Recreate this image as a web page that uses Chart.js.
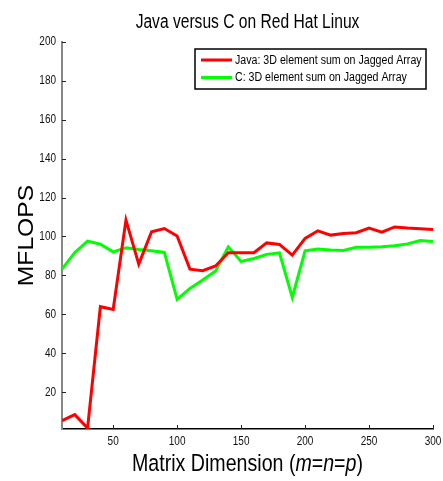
<!DOCTYPE html>
<html>
<head>
<meta charset="utf-8">
<script src="https://cdn.jsdelivr.net/npm/chart.js@4.4.0/dist/chart.umd.min.js"></script>
<style>
html,body{margin:0;padding:0;background:#fff;}
#wrap{width:443px;height:481px;position:relative;}
</style>
</head>
<body>
<div id="wrap"><canvas id="c" width="443" height="481"></canvas></div>
<script>
const sizes = [10,20,30,40,50,60,70,80,90,100,110,120,130,140,150,160,170,180,190,200,210,220,230,240,250,260,270,280,290,300];
const javaValues = [5.3,8.4,1.5,63.9,62.5,108.4,85.8,102.4,104.1,100.2,83.2,82.4,84.8,91.6,91.6,91.6,96.7,95.9,90.4,99,102.9,100.7,101.5,101.9,104.3,102.2,104.9,104.3,104,103.6];
const cValues = [83.2,91.8,97.6,96,92.1,94.2,93.3,92.6,91.8,67.7,73.3,77.6,82.2,94.7,87.2,88.7,90.8,91.6,68.7,92.6,93.6,93,92.8,94.4,94.5,94.7,95.2,96.2,97.9,97.4];
const xTicks = [50,100,150,200,250,300];
const yTicks = [20,40,60,80,100,120,140,160,180,200];
const seriesLabels = ['Java: 3D element sum on Jagged Array','C: 3D element sum on Jagged Array'];
const titleText = 'Java versus C on Red Hat Linux';
const yTitle = 'MFLOPS';
const xTitleParts = [['Matrix Dimension (',false],['m',true],['=',false],['n',true],['=',false],['p',true],[')',false]];

const FONT = '"Liberation Sans", Arial, sans-serif';
const SQ = 0.8; // horizontal condensing of the reference's lettering

const pts = (vals) => sizes.map((s,i)=>({x:s,y:vals[i]}));

function drawSqueezed(ctx, text, x, y, font, sx, align){
  ctx.save();
  ctx.font = font;
  const w = ctx.measureText(text).width*sx;
  let left = x;
  if(align==='center') left = x - w/2; else if(align==='right') left = x - w;
  ctx.translate(left, y);
  ctx.scale(sx,1);
  ctx.textAlign='left';
  ctx.fillText(text,0,0);
  ctx.restore();
  return w;
}

const decor = {
  id:'decor',
  afterDraw(chart){
    const ctx = chart.ctx, a = chart.chartArea;
    const xs = chart.scales.x, ys = chart.scales.y;
    ctx.save();
    // inward ticks
    ctx.strokeStyle = '#222'; ctx.lineWidth = 1;
    xTicks.forEach(t=>{const px=Math.round(xs.getPixelForValue(t))+0.5; ctx.beginPath(); ctx.moveTo(px,a.bottom); ctx.lineTo(px,a.bottom-4); ctx.stroke();});
    yTicks.forEach(t=>{const py=Math.round(ys.getPixelForValue(t))+0.5; ctx.beginPath(); ctx.moveTo(a.left,py); ctx.lineTo(a.left+4,py); ctx.stroke();});
    ctx.fillStyle = '#111';
    ctx.textBaseline='middle';
    // tick labels
    xTicks.forEach(t=>drawSqueezed(ctx,String(t),xs.getPixelForValue(t),442,'12.5px '+FONT,SQ,'center'));
    yTicks.forEach(t=>drawSqueezed(ctx,String(t),56,ys.getPixelForValue(t),'12.5px '+FONT,SQ,'right'));
    ctx.fillStyle = '#000';
    // title
    ctx.textBaseline='alphabetic';
    drawSqueezed(ctx,titleText,(a.left+a.right)/2,28,'19.5px '+FONT,SQ,'center');
    // y title (rotated, reading upward)
    ctx.save();
    ctx.translate(32.5,(a.top+a.bottom)/2);
    ctx.rotate(-Math.PI/2);
    drawSqueezed(ctx,yTitle,0,0,'22px '+FONT,1.12,'center');
    ctx.restore();
    // x title with italics
    const fN = '24.5px '+FONT, fI = 'italic 24.5px '+FONT;
    let total=0;
    xTitleParts.forEach(([t,it])=>{ctx.font=it?fI:fN; total+=ctx.measureText(t).width*SQ;});
    let x=(a.left+a.right)/2-total/2;
    xTitleParts.forEach(([t,it])=>{x+=drawSqueezed(ctx,t,x,471,it?fI:fN,SQ,'left');});
    // legend
    const bx=195, by=49, bw=231, bh=40;
    ctx.fillStyle='#fff'; ctx.fillRect(bx,by,bw,bh);
    ctx.strokeStyle='#000'; ctx.lineWidth=1.5; ctx.strokeRect(bx,by,bw,bh);
    ctx.textBaseline='middle';
    chart.data.datasets.forEach((ds,i)=>{
      const yy = by+11+i*17.5;
      ctx.strokeStyle=ds.borderColor; ctx.lineWidth=3;
      ctx.beginPath(); ctx.moveTo(201,yy); ctx.lineTo(232,yy); ctx.stroke();
      ctx.fillStyle='#000';
      drawSqueezed(ctx,ds.label,235,yy+0.5,'12.5px '+FONT,0.85,'left');
    });
    ctx.restore();
  }
};

new Chart(document.getElementById('c'),{
  type:'line',
  data:{datasets:[
    {label:seriesLabels[0],data:pts(javaValues),borderColor:'#ff0000',borderWidth:3,pointRadius:0,fill:false,tension:0},
    {label:seriesLabels[1],data:pts(cValues),borderColor:'#00ff00',borderWidth:3,pointRadius:0,fill:false,tension:0}
  ]},
  options:{
    responsive:false,animation:false,
    layout:{padding:{top:42,right:10,left:0,bottom:0}},
    plugins:{legend:{display:false},title:{display:false},tooltip:{enabled:false}},
    scales:{
      x:{type:'linear',min:10,max:300,
        afterBuildTicks(s){s.ticks=xTicks.map(v=>({value:v}));},
        afterFit(s){s.height=52;s.paddingLeft=0;s.paddingRight=0;},
        grid:{display:true,drawOnChartArea:false,drawTicks:false},
        border:{display:true,color:'#000',width:1.5},
        ticks:{display:false}
      },
      y:{type:'linear',min:1,max:200,
        afterBuildTicks(s){s.ticks=yTicks.map(v=>({value:v}));},
        afterFit(s){s.width=62;s.paddingTop=0;s.paddingBottom=0;},
        grid:{display:true,drawOnChartArea:false,drawTicks:false},
        border:{display:true,color:'#888',width:2},
        ticks:{display:false}
      }
    }
  },
  plugins:[decor]
});
</script>
</body>
</html>
